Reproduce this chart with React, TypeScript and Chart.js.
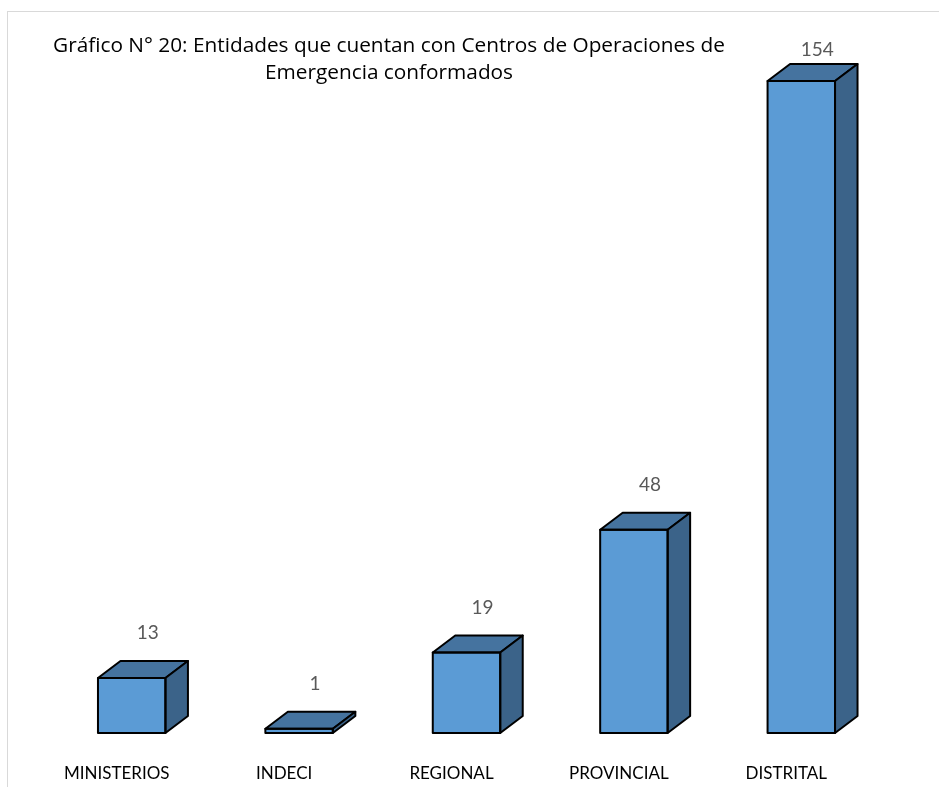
import React, { useEffect, useRef } from "react";
import { Chart, registerables } from "chart.js";

Chart.register(...registerables);

const categories = ["MINISTERIOS", "INDECI", "REGIONAL", "PROVINCIAL", "DISTRITAL"];
const values = [13, 1, 19, 48, 154];
const titleLines = [
  "Gráfico N° 20: Entidades que cuentan con Centros de Operaciones de",
  "Emergencia conformados",
];

const FRONT = "#5B9BD5";
const TOP = "#45739F";
const SIDE = "#3B6389";
const DX = 22.5;
const DY = 17;
const FONT = "Lato";
const TITLE_FONT = "'Open Sans'";

const bar3d = {
  id: "bar3d",
  beforeDraw(chart: any) {
    const ctx = chart.ctx;
    ctx.save();
    ctx.fillStyle = "#FFFFFF";
    ctx.fillRect(0, 0, chart.width, chart.height);
    ctx.strokeStyle = "#D9D9D9";
    ctx.lineWidth = 1;
    ctx.strokeRect(7.5, 11.5, 2000, 2000);
    ctx.restore();
  },
  afterDatasetsDraw(chart: any) {
    const ctx = chart.ctx;
    const meta = chart.getDatasetMeta(0);
    ctx.save();
    ctx.lineWidth = 2;
    ctx.strokeStyle = "#000000";
    ctx.lineJoin = "round";
    meta.data.forEach((el: any) => {
      const { x, y, base, width } = el.getProps(["x", "y", "base", "width"], true);
      const l = x - width / 2;
      const r = x + width / 2;
      ctx.beginPath();
      ctx.moveTo(l, y);
      ctx.lineTo(l + DX, y - DY);
      ctx.lineTo(r + DX, y - DY);
      ctx.lineTo(r, y);
      ctx.closePath();
      ctx.fillStyle = TOP;
      ctx.fill();
      ctx.stroke();
      ctx.beginPath();
      ctx.moveTo(r, y);
      ctx.lineTo(r + DX, y - DY);
      ctx.lineTo(r + DX, base - DY);
      ctx.lineTo(r, base);
      ctx.closePath();
      ctx.fillStyle = SIDE;
      ctx.fill();
      ctx.stroke();
      ctx.strokeRect(l, y, width, base - y);
    });
    ctx.restore();
  },
  afterDraw(chart: any) {
    const ctx = chart.ctx;
    const meta = chart.getDatasetMeta(0);
    ctx.save();
    ctx.font = `19px ${FONT}`;
    ctx.fillStyle = "#595959";
    ctx.textAlign = "center";
    ctx.textBaseline = "middle";
    meta.data.forEach((el: any, i: number) => {
      const { x, y } = el.getProps(["x", "y"], true);
      ctx.fillText(String(values[i]), x + 16, Math.max(y - DY - 28, 50));
    });
    ctx.fillStyle = "#000000";
    ctx.textBaseline = "alphabetic";
    ctx.font = `20.8px ${TITLE_FONT}`;
    ctx.fillText(titleLines[0], 389, 52);
    ctx.fillText(titleLines[1], 389, 79);
    ctx.restore();
  },
};

export default function App() {
  const ref = useRef<HTMLCanvasElement | null>(null);
  useEffect(() => {
    document.body.style.margin = "0";
    if (!ref.current) return;
    const chart = new Chart(ref.current, {
      type: "bar",
      data: {
        labels: categories,
        datasets: [
          {
            data: values,
            backgroundColor: FRONT,
            borderWidth: 0,
            barPercentage: 0.403,
            categoryPercentage: 1,
          },
        ],
      },
      options: {
        responsive: false,
        animation: false,
        devicePixelRatio: 1,
        layout: { padding: { left: 48, right: 54, top: 55.6, bottom: 0 } },
        plugins: {
          legend: { display: false },
          title: { display: false },
          tooltip: { enabled: false },
        },
        scales: {
          x: {
            grid: { display: false, drawTicks: false },
            border: { display: false },
            ticks: {
              color: "#000000",
              font: { family: FONT, size: 17 },
              padding: 30,
              labelOffset: -15,
              maxRotation: 0,
              autoSkip: false,
            },
            afterFit(scale: any) {
              scale.height = 54;
            },
          },
          y: {
            display: false,
            min: 0,
            max: 160,
          },
        },
      },
      plugins: [bar3d],
    });
    return () => chart.destroy();
  }, []);
  return <canvas ref={ref} width={939} height={787} style={{ display: "block" }} />;
}
